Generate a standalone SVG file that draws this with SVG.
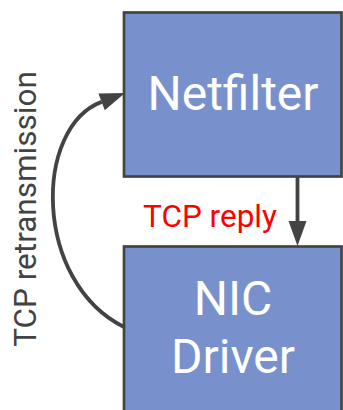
<svg xmlns="http://www.w3.org/2000/svg" width="343" height="410" viewBox="0 0 343 410">
  <style>
    .box { fill: #7891cd; stroke: #434343; stroke-width: 2.7; }
    .label { fill: #ffffff; font-family: Roboto, "Liberation Sans", sans-serif; font-size: 48px; text-anchor: middle; }
    .edge { fill: none; stroke: #434343; stroke-width: 3.8; }
    .elabel { font-family: Roboto, "Liberation Sans", sans-serif; font-size: 31.5px; text-anchor: middle; }
  </style>
  <defs>
    <marker id="head" markerUnits="userSpaceOnUse" markerWidth="26" markerHeight="19" refX="0" refY="9" orient="auto" overflow="visible">
      <path d="M0,0 L25,9 L0,18 Z" fill="#434343"/>
    </marker>
  </defs>
  <g id="netfilter">
    <rect class="box" x="124" y="12.5" width="217.5" height="164"/>
    <text class="label" x="233" y="110">Netfilter</text>
  </g>
  <g id="nic-driver">
    <rect class="box" x="124" y="246.5" width="217.5" height="200"/>
    <text class="label" x="233" y="315">NIC</text>
    <text class="label" x="233" y="373">Driver</text>
  </g>
  <g id="connectors">
    <line class="edge" x1="297.5" y1="177" x2="297.5" y2="221" marker-end="url(#head)"/>
    <text class="elabel" x="210" y="227" fill="#ff0000">TCP reply</text>
    <path class="edge" d="M124,327 C33,281.5 33.5,127.6 101.6,101.9" marker-end="url(#head)"/>
    <text class="elabel" transform="translate(36,209) rotate(-90)" fill="#434343">TCP retransmission</text>
  </g>
</svg>
